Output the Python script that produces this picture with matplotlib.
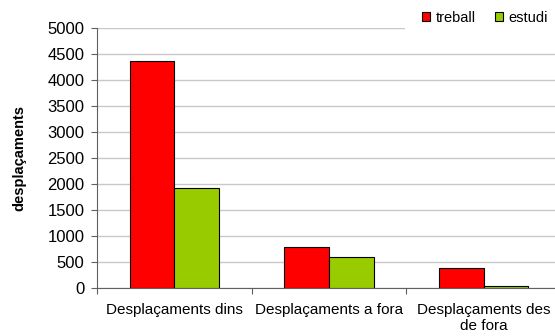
import numpy as np
import matplotlib.pyplot as plt
from matplotlib.patches import Rectangle

plt.rcParams['font.family'] = ['Liberation Sans', 'DejaVu Sans']

# dades
categories = ['Desplaçaments dins', 'Desplaçaments a fora', 'Desplaçaments des\nde fora']
treball = [4365, 785, 385]
estudi = [1910, 600, 25]
yticks = [0, 500, 1000, 1500, 2000, 2500, 3000, 3500, 4000, 4500, 5000]

W, H = 555, 336
fig = plt.figure(figsize=(W/100, H/100), dpi=100)
# l'eix continua una mica més enllà de la vora dreta (retallat)
ax = fig.add_axes([97/W, 1 - 287.7/H, 464/W, 259.7/H])

x = np.arange(len(categories))
w = 0.288
ax.bar(x - w/2, treball, w, color='#ff0000', edgecolor='black', linewidth=0.8, label='treball', zorder=3)
ax.bar(x + w/2, estudi, w, color='#99cc00', edgecolor='black', linewidth=0.8, label='estudi', zorder=3)

ax.set_xlim(-0.5, len(categories) - 0.5)
ax.set_ylim(0, 5000)
ax.set_yticks(yticks)
ax.set_yticklabels([str(v) for v in yticks], fontsize=12)
ax.yaxis.grid(True, color='#c8c8c8', linewidth=1, zorder=0)

# marques entre categories
ax.set_xticks(np.arange(-0.5, len(categories), 1.0))
ax.set_xticklabels([])
ax.set_xticks(x, minor=True)
ax.set_xticklabels(categories, minor=True, fontsize=11)
ax.tick_params(axis='x', which='minor', length=0, pad=11)
ax.tick_params(axis='x', which='major', length=4.5, color='#606060', direction='out')
ax.tick_params(axis='y', length=4, color='#606060', pad=5)

for s in ['top', 'right']:
    ax.spines[s].set_visible(False)
for s in ['left', 'bottom']:
    ax.spines[s].set_color('#606060')

ax.set_ylabel('desplaçaments', fontsize=10.5, fontweight='bold')
ax.yaxis.set_label_coords(-(97 - 26) / 464, 0.5)

# fons blanc de la llegenda (tapa la línia de 5000)
fig.patches.append(Rectangle((405/W, 1 - 31/H), 150/W, 28/H, transform=fig.transFigure,
                             facecolor='white', edgecolor='none', zorder=5))

leg = fig.legend(loc='center right', bbox_to_anchor=(548/W, 1 - 17.5/H), ncol=2, fontsize=10.5,
                 frameon=False, handlelength=0.55, handleheight=0.55, handletextpad=0.4,
                 columnspacing=1.3, borderpad=0, borderaxespad=0)
leg.set_zorder(6)

fig.savefig('out.png', dpi=100)
